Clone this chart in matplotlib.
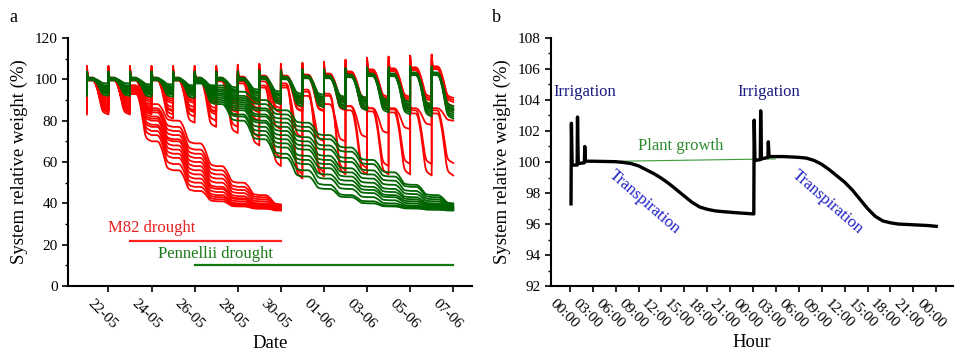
import numpy as np
import matplotlib.pyplot as plt
from matplotlib.ticker import MultipleLocator
from matplotlib.transforms import ScaledTranslation

plt.rcParams['font.family'] = ['Liberation Serif', 'DejaVu Serif']

# ---------------- panel a data (days counted from 22-05) ----------------
date_ticks = [0, 2, 4, 6, 8, 10, 12, 14, 16]
date_labels = ['22-05', '24-05', '26-05', '28-05', '30-05', '01-06', '03-06', '05-06', '07-06']
first_day = -1  # 21-05

# fraction of the daily weight loss done at each hour 0..24
loss_profile = np.array([0, 0, 0, 0, 0, 0, 0, 0.01, 0.03, 0.08, 0.15, 0.23, 0.32,
                         0.43, 0.54, 0.66, 0.78, 0.87, 0.92, 0.945, 0.96, 0.97, 0.98, 0.99, 1.0])

# M82 well watered: group plateau / trough per day (21-05 .. 06-06)
m82_ww_tops = [100, 100, 100, 100, 100, 100, 100, 100.5, 101, 101, 101.5, 102, 103, 104, 104.5, 105, 105.5]
m82_ww_troughs = [87, 87, 87, 86.5, 86.5, 86, 86, 86, 86, 86.5, 86.5, 87, 87, 87.5, 87.5, 87.5, 87]
m82_ww_top_off = [0.8, 0.3, 0, -0.3, 0.5, -0.6]
m82_ww_trough_off = [4, 2, 0, -2, 3, -1.5]
m82_ww_spike = [5.5, 4.5, 4, 5, 6, 3.5]

# M82 plants with deep daily cycles
m82_deep_tops = [[100, 100, 100, 100, 100, 100, 100, 99, 97, 98, 95, 93, 87, 86, 85.5, 85, 85],
                 [100, 100, 100, 100, 99.5, 99.5, 99, 98, 96, 97, 94, 92, 85, 84.5, 84, 83.5, 83.5],
                 [100, 100, 100, 100, 100, 100, 100, 100, 99, 96, 92, 88, 87, 86, 86, 86, 86]]
m82_deep_ends = [[86, 85, 84, 83, 82, 80, 77, 72, 62, 54, 55, 56, 57, 58, 59, 59, 59.5],
                 [85, 84, 83, 81, 79, 77, 74, 68, 58, 52, 53, 54, 54, 54, 54, 53.5, 53.5],
                 [87, 86, 86, 85, 84, 83, 82, 80, 76, 72, 70, 70, 72, 74, 76, 78, 80]]

# M82 drought (from 23-05): troughs before, weight on 23-05, end of day 23-05 .. 29-05
m82_dry_pre = [84, 86, 88, 85, 90, 87, 83, 89, 86, 91, 85, 88]
m82_dry_start = [94, 95, 96, 93, 97, 95, 94, 96, 95, 97, 93, 96]
m82_dry_ends = [[70, 56, 46, 41, 38.5, 37.5, 37],
                [73, 59, 48, 42, 39, 37.5, 36.5],
                [75, 62, 50, 43, 39.5, 38, 37],
                [77, 64, 52, 44, 40, 38, 37],
                [78, 66, 54, 45.5, 41, 38.5, 37.5],
                [80, 68, 56, 47, 42, 39, 37.5],
                [81, 70, 58, 48, 42.5, 39.5, 38],
                [82, 71, 60, 50, 43.5, 40, 38],
                [84, 73, 62, 52, 45, 41, 38.5],
                [85, 75, 64, 54, 46.5, 42, 39],
                [86, 77, 66, 56, 48, 43, 39],
                [88, 80, 69, 58, 50, 44, 39.5]]

# Pennellii well watered
penn_ww_tops = [100, 100, 100, 100, 100, 100, 100, 100, 100.5, 100.5, 101, 101, 101.5, 102, 102, 102.5, 102.5]
penn_ww_troughs = [95, 95, 94.5, 94.5, 94, 93.5, 93, 92, 91, 90, 89.5, 88.5, 88, 87, 86, 85, 84]
penn_ww_top_off = [0.5, 0, -0.3, 0.3, -0.5, 0.8, 0.2, -0.2]
penn_ww_trough_off = [3, 2, 1, 0, -1, -2, -3, 1.5]
penn_ww_spike = [2.5, 3, 2, 3.5, 2, 3, 2.5, 2]

# Pennellii drought (from 26-05): troughs before, weight on 26-05, end of day 26-05 .. 06-06
penn_dry_pre = [94, 95, 96, 93.5, 95.5, 94.5, 96.5, 95, 93, 94, 95.5, 96]
penn_dry_start = [99, 100, 98.5, 99.5, 100, 99, 98, 100, 99.5, 99, 100, 98.5]
penn_dry_ends = [[88, 80, 71, 62, 53, 47, 43, 40, 38.5, 37.5, 37, 36.5],
                 [89, 82, 73, 64, 56, 49, 44, 41, 39, 38, 37, 36.8],
                 [90, 83, 75, 67, 59, 52, 47, 43, 40, 38.5, 37.5, 37],
                 [91, 85, 77, 69, 61, 54, 49, 45, 41.5, 39, 38, 37.2],
                 [92, 86, 79, 71, 63, 57, 51, 46.5, 43, 40, 38.5, 37.5],
                 [93, 87, 80, 73, 66, 59, 53, 48, 44, 41, 39, 37.8],
                 [93, 88, 82, 75, 68, 61, 55, 50, 45.5, 42, 39.5, 38],
                 [94, 89, 83, 77, 70, 63, 57, 52, 47, 43, 40, 38.3],
                 [95, 90, 85, 79, 72, 66, 60, 54, 49, 44.5, 41, 38.5],
                 [95, 91, 86, 81, 75, 68, 62, 56, 51, 46, 42, 39],
                 [96, 92, 88, 83, 77, 71, 65, 59, 53, 48, 43, 39.5],
                 [97, 94, 90, 85, 79, 73, 67, 61, 55, 49, 44, 40]]

# ---------------- panel b data ----------------
hour_ticks = list(range(0, 49, 3))
hour_labels = ['%02d:00' % (h % 24) for h in hour_ticks]
hour_b = [0.15, 0.2, 0.3, 0.95, 1.0, 1.1, 1.9, 1.95, 2.05, 3, 6, 7, 8, 9, 10, 11, 12, 13, 14, 15, 16,
          17, 18, 19, 20, 22, 24.1, 24.15, 24.25, 24.95, 25.0, 25.1, 25.95, 26.0, 26.1, 28, 30, 31,
          32, 33, 34, 35, 36, 37, 38, 39, 40, 41, 42, 43, 45, 47, 48]
weight_b = [97.3, 102.5, 99.8, 99.8, 102.9, 99.9, 99.95, 101.0, 100.05, 100.05, 100.02, 99.97,
            99.9, 99.75, 99.5, 99.25, 98.95, 98.6, 98.2, 97.8, 97.4, 97.1, 96.95, 96.85, 96.8,
            96.72, 96.65, 102.7, 100.1, 100.15, 103.3, 100.2, 100.3, 101.3, 100.35, 100.35, 100.3,
            100.25, 100.1, 99.85, 99.5, 99.1, 98.7, 98.2, 97.6, 97.0, 96.5, 96.2, 96.08, 96.0,
            95.95, 95.9, 95.85]
growth_hours = [6.5, 26.9]
growth_weight = [100.05, 100.2]

RED = '#ff0000'
GREEN = '#006400'
LW = 1.3
hours = np.arange(25)


def build_trace(tops, ends, spikes, start_val):
    xs, ys = [first_day], [start_val]
    prev = start_val
    for i in range(len(ends)):
        d = first_day + i
        top = prev if tops[i] is None else tops[i]
        seg = top - (top - ends[i]) * loss_profile
        seg[0] += spikes[i]
        xs.extend(d + hours / 24.0)
        ys.extend(seg)
        prev = ends[i]
    return xs, ys


fig = plt.figure(figsize=(9.68, 3.58), dpi=100)
ax1 = fig.add_axes([0.0702, 0.201, 0.4174, 0.693])
ax2 = fig.add_axes([0.569, 0.201, 0.4155, 0.693])

# red traces
for i in range(len(m82_ww_top_off)):
    tops = [t + m82_ww_top_off[i] for t in m82_ww_tops]
    ends = [t + m82_ww_trough_off[i] for t in m82_ww_troughs]
    x, y = build_trace(tops, ends, [m82_ww_spike[i]] * len(tops), ends[0])
    ax1.plot(x, y, color=RED, lw=LW)
for tops, ends in zip(m82_deep_tops, m82_deep_ends):
    x, y = build_trace(tops, ends, [4] * 8 + [1.5] * 9, ends[0])
    ax1.plot(x, y, color=RED, lw=LW)
for i in range(len(m82_dry_ends)):
    tops = [100, 100, m82_dry_start[i]] + [None] * 6
    ends = [m82_dry_pre[i], m82_dry_pre[i]] + m82_dry_ends[i]
    x, y = build_trace(tops, ends, [4.5, 4.5] + [0] * 7, m82_dry_pre[i])
    ax1.plot(x, y, color=RED, lw=LW)

# green traces
for i in range(len(penn_dry_ends)):
    tops = [100] * 5 + [penn_dry_start[i]] + [None] * 11
    ends = [penn_dry_pre[i]] * 5 + penn_dry_ends[i]
    x, y = build_trace(tops, ends, [2.5] * 6 + [0] * 11, penn_dry_pre[i])
    ax1.plot(x, y, color=GREEN, lw=LW)
for i in range(len(penn_ww_top_off)):
    tops = [t + penn_ww_top_off[i] for t in penn_ww_tops]
    ends = [t + penn_ww_trough_off[i] for t in penn_ww_troughs]
    x, y = build_trace(tops, ends, [penn_ww_spike[i]] * len(tops), ends[0])
    ax1.plot(x, y, color=GREEN, lw=LW)

ax1.plot([1, 8], [22, 22], color='#ff2020', lw=1.6)
ax1.plot([4, 16], [10, 10], color='#117711', lw=1.6)
ax1.text(2.02, 28.1, 'M82 drought', color='#e82020', fontsize=12, ha='center', va='center')
ax1.text(4.99, 15.5, 'Pennellii drought', color='#1a7a1a', fontsize=12, ha='center', va='center')

ax1.set_xlim(-1.88, 16.87)
ax1.set_ylim(0, 120)
ax1.set_xticks(date_ticks)
ax1.set_xticklabels(date_labels, rotation=-45, ha='center', va='top')
ax1.yaxis.set_major_locator(MultipleLocator(20))
ax1.yaxis.set_minor_locator(MultipleLocator(10))
ax1.set_xlabel('Date', fontsize=13.5, labelpad=3)
ax1.set_ylabel('System relative weight (%)', fontsize=13.5, labelpad=5)

# panel b
ax2.plot(growth_hours, growth_weight, color='#3a9a3a', lw=0.8)
ax2.plot(hour_b, weight_b, color='black', lw=2.4)
ax2.text(2, 104.5, 'Irrigation', color='#1a1a80', fontsize=12, ha='center', va='center')
ax2.text(26, 104.5, 'Irrigation', color='#1a1a80', fontsize=12, ha='center', va='center')
ax2.text(14.5, 101.0, 'Plant growth', color='#2e8b2e', fontsize=12, ha='center', va='center')
ax2.text(9.8, 97.4, 'Transpiration', color='#2020c8', fontsize=12, ha='center', va='center', rotation=-41)
ax2.text(33.8, 97.4, 'Transpiration', color='#2020c8', fontsize=12, ha='center', va='center', rotation=-41)

ax2.set_xlim(-2.5, 50.2)
ax2.set_ylim(92, 108)
ax2.set_xticks(hour_ticks)
ax2.set_xticklabels(hour_labels, rotation=-45, ha='center', va='top')
ax2.yaxis.set_major_locator(MultipleLocator(2))
ax2.yaxis.set_minor_locator(MultipleLocator(1))
ax2.set_xlabel('Hour', fontsize=13.5, labelpad=3)
ax2.set_ylabel('System relative weight (%)', fontsize=13.5, labelpad=5)

shift = ScaledTranslation(-4 / 72, 0, fig.dpi_scale_trans)
for ax in (ax1, ax2):
    ax.spines['top'].set_visible(False)
    ax.spines['right'].set_visible(False)
    ax.spines['left'].set_linewidth(1.5)
    ax.spines['bottom'].set_linewidth(1.5)
    ax.tick_params(which='major', direction='out', length=4, width=1.2, labelsize=11)
    ax.tick_params(which='minor', direction='out', length=2.5, width=1.0)
    for lab in ax.get_xticklabels():
        lab.set_transform(lab.get_transform() + shift)

fig.text(0.014, 0.95, 'a', fontsize=13, ha='center', va='center')
fig.text(0.513, 0.952, 'b', fontsize=13, ha='center', va='center')

fig.savefig('out.png', dpi=100)
